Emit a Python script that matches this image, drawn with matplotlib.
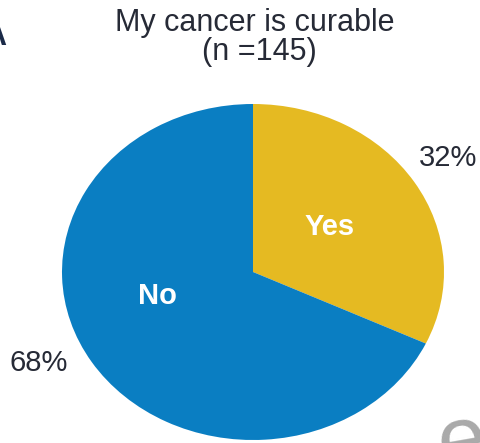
import matplotlib.pyplot as plt

plt.rcParams['font.family'] = ['Liberation Sans', 'DejaVu Sans']

# Survey answers
answers = ['Yes', 'No']
shares = [32, 68]
colors = ['#E5BA22', '#0A7EC2']
title = 'My cancer is curable'
n_resp = 145

fig = plt.figure(figsize=(4.81, 4.43), dpi=100)
W, H = 481, 443

# pie is slightly squashed vertically, so place the axes by hand
cx, cy, rx, ry = 253, 272, 191, 168
ax = fig.add_axes([(cx - rx) / W, (H - cy - ry) / H, 2 * rx / W, 2 * ry / H])
ax.pie(shares, colors=colors, startangle=90, counterclock=False,
       wedgeprops=dict(linewidth=0))
ax.set_aspect('auto')
ax.set_xlim(-1, 1)
ax.set_ylim(-1, 1)
ax.axis('off')

# labels inside the slices and percentages outside
inside = {'Yes': (0.40, 0.27), 'No': (-0.50, -0.14)}
outside = {'Yes': (1.02, 0.68), 'No': (-1.12, -0.54)}
for name, val in zip(answers, shares):
    x, y = inside[name]
    ax.text(x, y, name, color='white', fontsize=21, fontweight='bold',
            ha='center', va='center')
    x, y = outside[name]
    ax.text(x, y, f'{val}%', color='#262a36', fontsize=21,
            ha='center', va='center', clip_on=False)

fig.text(255 / W, 1 - 23 / H, title, fontsize=22, color='#262a36',
         ha='center', va='center')
fig.text(259 / W, 1 - 52 / H, f'(n ={n_resp})', fontsize=22, color='#262a36',
         ha='center', va='center')

# panel letter, cut by the left edge
fig.text(-16 / W, 1 - 37 / H, 'A', fontsize=22, fontweight='bold',
         color='#1b2a48', ha='left', va='center')

# faint watermark in the corner
fig.text(462 / W, 1 - 444 / H, 'e', fontsize=64, color='#a9a9a9',
         ha='center', va='center', rotation=10)

fig.savefig('out.png', dpi=100)
